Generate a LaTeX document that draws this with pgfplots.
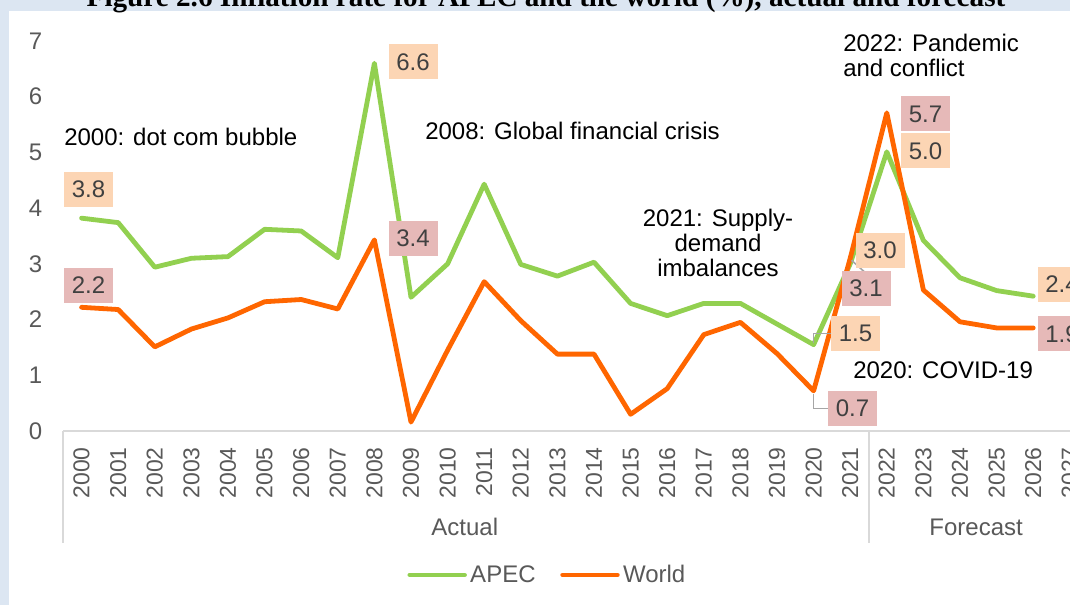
\documentclass[border=0pt]{standalone}
\usepackage{fontspec}
\setmainfont{Liberation Sans}
\newfontfamily\seriffont{Liberation Serif}
\usepackage{pgfplots}
\usepackage{pgfplotstable}
\pgfplotsset{compat=1.18}
\definecolor{apec}{HTML}{92D050}
\definecolor{world}{HTML}{FF6600}
\definecolor{boxA}{HTML}{FCD5B4}
\definecolor{boxW}{HTML}{E6B9B8}
\definecolor{labtxt}{HTML}{404040}
\definecolor{tickc}{HTML}{595959}
\definecolor{axc}{HTML}{D9D9D9}
\definecolor{framec}{HTML}{DCE6F2}
\definecolor{leaderc}{HTML}{A6A6A6}
\tikzset{lab/.style={font=\fontsize{18}{20}\selectfont, text=labtxt, minimum width=36.75pt, minimum height=26.25pt, inner sep=0pt}}

\pgfplotstableread{
yr apec world
0 3.82 2.22
1 3.74 2.18
2 2.94 1.51
3 3.10 1.83
4 3.13 2.03
5 3.62 2.32
6 3.59 2.36
7 3.11 2.19
8 6.60 3.43
9 2.40 0.16
10 3.00 1.45
11 4.43 2.68
12 2.99 1.98
13 2.78 1.38
14 3.03 1.38
15 2.29 0.30
16 2.07 0.76
17 2.29 1.73
18 2.29 1.95
19 1.92 1.39
20 1.55 0.72
21 3.00 3.10
22 5.01 5.71
23 3.42 2.53
24 2.75 1.96
25 2.52 1.85
26 2.42 1.85
}\datatable

\begin{document}
\begin{tikzpicture}[x=0.75pt,y=0.75pt]
\useasboundingbox (0,0) rectangle (1070,605);
\clip (0,0) rectangle (1070,605);
\fill[framec] (0,0) rectangle (1070,605);
\fill[white] (9,0) rectangle (1070,594);
\node[anchor=base, inner sep=0pt, font=\seriffont\bfseries\fontsize{21.9}{24}\selectfont] at (546,598.5)
  {Figure 2.6 Inflation rate for APEC and the world (\%), actual and forecast};

\begin{axis}[
  at={(47.475pt,130.5pt)}, anchor=south west,
  scale only axis, width=768.6pt, height=292.5pt,
  xmin=-0.5, xmax=27.5, ymin=0, ymax=7,
  clip=false,
  axis line style={draw=none},
  tick style={draw=none},
  major tick length=0pt,
  xtick={0,...,27},
  xticklabels={2000,2001,2002,2003,2004,2005,2006,2007,2008,2009,2010,2011,2012,2013,2014,2015,2016,2017,2018,2019,2020,2021,2022,2023,2024,2025,2026,2027},
  ytick={0,...,7},
  /pgf/number format/assume math mode=true,
  x tick label style={rotate=90, anchor=east, font=\fontsize{17.2}{18}\selectfont, text=tickc, inner sep=0pt},
  y tick label style={anchor=east, font=\fontsize{18}{20}\selectfont, text=tickc, inner sep=0pt},
  xticklabel shift=12pt,
  yticklabel shift=15.6pt,
  legend style={at={(0.473,-0.369)}, anchor=center, draw=none, fill=none,
    font=\fontsize{18}{20}\selectfont, text=tickc, inner sep=0pt,
    nodes={inner sep=2.5pt},
    /tikz/every even column/.append style={column sep=16pt}},
  legend columns=2,
  legend image code/.code={\draw[#1, line cap=round] (0pt,0pt) -- (41pt,0pt);},
]
\draw[axc, line width=1.5pt] (axis cs:-0.5,0) -- (axis cs:27.5,0);
\draw[axc, line width=1.5pt] (axis cs:-0.5,0) -- ++(0pt,-84pt);
\draw[axc, line width=1.5pt] (axis cs:21.5,0) -- ++(0pt,-84pt);
\draw[axc, line width=1.5pt] (axis cs:27.5,0) -- ++(0pt,-84pt);

\addplot[apec, line width=3.6pt, line join=round, line cap=round] table[x=yr,y=apec]{\datatable};
\addlegendentry{APEC}
\addplot[world, line width=3.6pt, line join=round, line cap=round] table[x=yr,y=world]{\datatable};
\addlegendentry{World}

\node[text=tickc, font=\fontsize{18}{20}\selectfont, yshift=-72pt] at (axis cs:10.47,0) {Actual};
\node[text=tickc, font=\fontsize{18}{20}\selectfont, yshift=-72pt] at (axis cs:24.44,0) {Forecast};

% leader lines
\draw[leaderc, line width=1.2pt] (axis cs:20,1.55) ++(0pt,1.5pt) |- ++(13pt,6.9pt);
\draw[leaderc, line width=1.2pt] (axis cs:20,0.72) ++(0pt,-2pt) |- ++(10.8pt,-11.1pt);
\draw[leaderc, line width=1.2pt] (axis cs:21,3.10) ++(1pt,-1.5pt) -- ++(10pt,-9pt);

% data labels
\node[lab, fill=boxA, xshift=5.2pt, yshift=21.6pt] at (axis cs:0,3.82) {3.8};
\node[lab, fill=boxW, xshift=5.2pt, yshift=16.5pt] at (axis cs:0,2.22) {2.2};
\node[lab, fill=boxA, xshift=29pt, yshift=1pt] at (axis cs:8,6.60) {6.6};
\node[lab, fill=boxW, xshift=29pt, yshift=1.2pt] at (axis cs:8,3.43) {3.4};
\node[lab, fill=boxA, xshift=31.4pt, yshift=8.4pt] at (axis cs:20,1.55) {1.5};
\node[lab, fill=boxW, xshift=29.2pt, yshift=-13.1pt] at (axis cs:20,0.72) {0.7};
\node[lab, fill=boxA, xshift=22.4pt, yshift=10.1pt] at (axis cs:21,3.00) {3.0};
\node[lab, fill=boxW, xshift=11.9pt, yshift=-22.7pt] at (axis cs:21,3.10) {3.1};
\node[lab, fill=boxW, xshift=29pt, yshift=-0.75pt] at (axis cs:22,5.71) {5.7};
\node[lab, fill=boxA, xshift=29pt, yshift=0.75pt] at (axis cs:22,5.01) {5.0};
\node[lab, fill=boxA, xshift=21.6pt, yshift=8.9pt] at (axis cs:26,2.42) {2.4};
\node[lab, fill=boxW, xshift=21.6pt, yshift=-4.5pt] at (axis cs:26,1.85) {1.9};
\end{axis}

% annotations
\begin{scope}[every node/.style={inner sep=0pt, text=black, font=\fontsize{18}{19}\selectfont}]
\node[anchor=west] at (64,468) {2000: dot com bubble};
\node[anchor=west] at (425,474) {2008: Global financial crisis};
\node[align=center] at (718,362) {2021: Supply-\\demand\\imbalances};
\node[anchor=west, align=left] at (843,549.5) {2022: Pandemic\\and conflict};
\node[anchor=west] at (853,235) {2020: COVID-19};
\end{scope}
\end{tikzpicture}
\end{document}
